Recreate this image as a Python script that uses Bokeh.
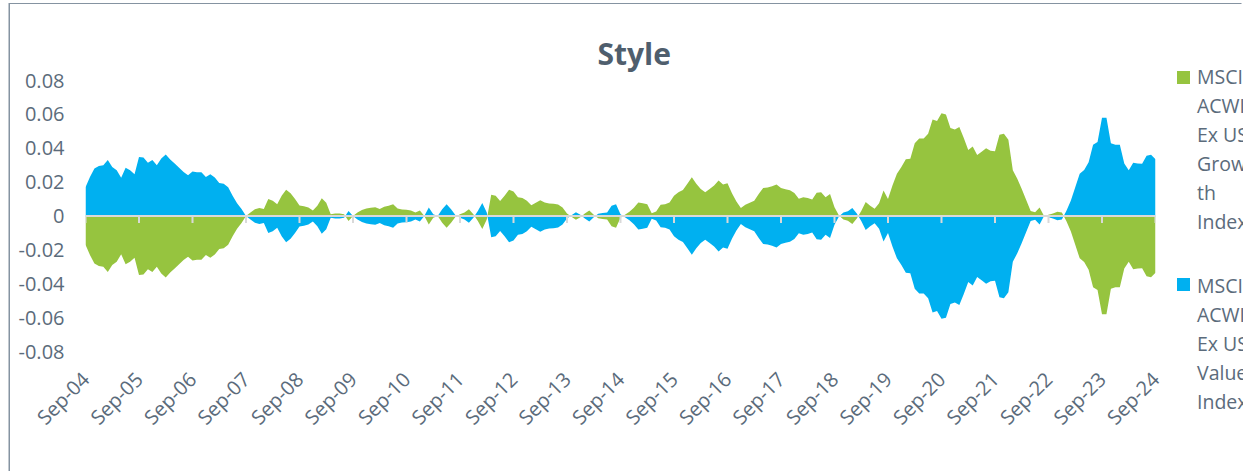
from math import pi
from bokeh.plotting import figure
from bokeh.layouts import row
from bokeh.models import FixedTicker, Span, Range1d, ColumnDataSource, Div
from bokeh.embed import file_html
from bokeh.resources import INLINE

# ---------------- data ----------------
tick_labels = ["Sep-04", "Sep-05", "Sep-06", "Sep-07", "Sep-08", "Sep-09", "Sep-10",
               "Sep-11", "Sep-12", "Sep-13", "Sep-14", "Sep-15", "Sep-16", "Sep-17",
               "Sep-18", "Sep-19", "Sep-20", "Sep-21", "Sep-22", "Sep-23", "Sep-24"]
y_ticks = [-0.08, -0.06, -0.04, -0.02, 0.0, 0.02, 0.04, 0.06, 0.08]
y_tick_labels = ["-0.08", "-0.06", "-0.04", "-0.02", "0", "0.02", "0.04", "0.06", "0.08"]
series_names = ["MSCI ACWI Ex USA Growth Index", "MSCI ACWI Ex USA Value Index"]
# how the legend wraps the two names
legend_lines = [["MSCI", "ACWI", "Ex USA", "Grow", "th", "Index"],
                ["MSCI", "ACWI", "Ex USA", "Value", "Index"]]

# monthly, Sep-04 .. Sep-24
growth = [
    -0.017, -0.023, -0.028, -0.0295, -0.030, -0.033, -0.029, -0.027, -0.0226, -0.0285, -0.027, -0.0246,
    -0.0349, -0.0345, -0.0315, -0.033, -0.030, -0.034, -0.0363, -0.0333, -0.031, -0.0285, -0.026, -0.024,
    -0.0262, -0.0258, -0.0258, -0.023, -0.0246, -0.0228, -0.0195, -0.019, -0.017, -0.012, -0.0075, -0.0042,
    0.0, 0.002, 0.004, 0.0047, 0.0042, 0.010, 0.009, 0.007, 0.012, 0.0155, 0.0135, 0.010,
    0.0062, 0.0057, 0.005, 0.0033, 0.006, 0.0105, 0.0078, 0.001, 0.0015, 0.0015, 0.001, -0.003,
    0.0, 0.002, 0.0035, 0.0045, 0.0048, 0.0052, 0.0042, 0.0055, 0.006, 0.007, 0.0045, 0.0038,
    0.0037, 0.0033, 0.002, 0.0033, 0.0, -0.005, -0.001, 0.0, -0.004, -0.007, -0.004, -0.0005,
    0.001, 0.002, 0.004, 0.001, -0.003, -0.0077, -0.002, 0.0125, 0.012, 0.0088, 0.012, 0.0155,
    0.0145, 0.011, 0.0107, 0.009, 0.0063, 0.0078, 0.0093, 0.008, 0.0074, 0.0073, 0.0068, 0.005,
    0.0015, -0.0005, -0.0022, -0.0008, 0.0015, 0.0032, 0.0008, -0.0013, -0.0018, -0.002, -0.006, -0.007,
    -0.001, 0.0008, 0.0025, 0.0048, 0.008, 0.0075, 0.007, 0.0016, 0.0026, 0.0067, 0.007, 0.008,
    0.012, 0.014, 0.0154, 0.019, 0.0229, 0.019, 0.016, 0.014, 0.016, 0.018, 0.0209, 0.0186,
    0.0194, 0.0135, 0.0085, 0.0047, 0.0066, 0.0078, 0.009, 0.013, 0.0166, 0.0169, 0.0175, 0.0186,
    0.0166, 0.0158, 0.0152, 0.0136, 0.0102, 0.011, 0.0107, 0.0097, 0.0138, 0.014, 0.011, 0.013,
    0.0052, 0.0003, -0.002, -0.0028, -0.0047, -0.0015, 0.003, 0.0082, 0.006, 0.0043, 0.0075, 0.015,
    0.0101, 0.018, 0.025, 0.029, 0.0335, 0.0338, 0.043, 0.0457, 0.0457, 0.0486, 0.057, 0.0561,
    0.0607, 0.060, 0.052, 0.051, 0.0525, 0.046, 0.039, 0.041, 0.036, 0.038, 0.040, 0.0385,
    0.0383, 0.048, 0.0486, 0.045, 0.027, 0.022, 0.016, 0.0095, 0.003, 0.0022, 0.005, 0.0,
    0.0008, 0.0015, 0.0025, 0.002, -0.003, -0.009, -0.017, -0.025, -0.0272, -0.0318, -0.042, -0.0437,
    -0.058, -0.058, -0.043, -0.042, -0.042, -0.031, -0.027, -0.0315, -0.031, -0.0308, -0.0355, -0.0362,
    -0.0335,
]
value = [
    0.017, 0.023, 0.028, 0.0295, 0.030, 0.033, 0.029, 0.027, 0.0226, 0.0285, 0.027, 0.0246,
    0.0349, 0.0345, 0.0315, 0.033, 0.030, 0.034, 0.0363, 0.0333, 0.031, 0.0285, 0.026, 0.024,
    0.0262, 0.0258, 0.0258, 0.023, 0.0246, 0.0228, 0.0195, 0.019, 0.017, 0.012, 0.0075, 0.0042,
    0.0, -0.002, -0.004, -0.0047, -0.0042, -0.010, -0.009, -0.007, -0.012, -0.0155, -0.0135, -0.010,
    -0.0062, -0.0057, -0.005, -0.0033, -0.006, -0.0105, -0.0078, -0.001, -0.0015, -0.0015, -0.001, 0.003,
    0.0, -0.002, -0.0035, -0.0045, -0.0048, -0.0052, -0.0042, -0.0055, -0.006, -0.007, -0.0045, -0.0038,
    -0.0037, -0.0033, -0.002, -0.0033, 0.0, 0.005, 0.001, 0.0, 0.004, 0.007, 0.004, 0.0005,
    -0.001, -0.002, -0.004, -0.001, 0.003, 0.0077, 0.002, -0.0125, -0.012, -0.0088, -0.012, -0.0155,
    -0.0145, -0.011, -0.0107, -0.009, -0.0063, -0.0078, -0.0093, -0.008, -0.0074, -0.0073, -0.0068, -0.005,
    -0.0015, 0.0005, 0.0022, 0.0008, -0.0015, -0.0032, -0.0008, 0.0013, 0.0018, 0.002, 0.006, 0.007,
    0.001, -0.0008, -0.0025, -0.0048, -0.008, -0.0075, -0.007, -0.0016, -0.0026, -0.0067, -0.007, -0.008,
    -0.012, -0.014, -0.0154, -0.019, -0.0229, -0.019, -0.016, -0.014, -0.016, -0.018, -0.0209, -0.0186,
    -0.0194, -0.0135, -0.0085, -0.0047, -0.0066, -0.0078, -0.009, -0.013, -0.0166, -0.0169, -0.0175, -0.0186,
    -0.0166, -0.0158, -0.0152, -0.0136, -0.0102, -0.011, -0.0107, -0.0097, -0.0138, -0.014, -0.011, -0.013,
    -0.0052, -0.0003, 0.002, 0.0028, 0.0047, 0.0015, -0.003, -0.0082, -0.006, -0.0043, -0.0075, -0.015,
    -0.0101, -0.018, -0.025, -0.029, -0.0335, -0.0338, -0.043, -0.0457, -0.0457, -0.0486, -0.057, -0.0561,
    -0.0607, -0.060, -0.052, -0.051, -0.0525, -0.046, -0.039, -0.041, -0.036, -0.038, -0.040, -0.0385,
    -0.0383, -0.048, -0.0486, -0.045, -0.027, -0.022, -0.016, -0.0095, -0.003, -0.0022, -0.005, 0.0,
    -0.0008, -0.0015, -0.0025, -0.002, 0.003, 0.009, 0.017, 0.025, 0.0272, 0.0318, 0.042, 0.0437,
    0.058, 0.058, 0.043, 0.042, 0.042, 0.031, 0.027, 0.0315, 0.031, 0.0308, 0.0355, 0.0362,
    0.0335,
]

# ---------------- styling ----------------
GREEN = "#96c43f"
BLUE = "#00b0f0"
TEXT = "#5b6b7b"
TITLE = "#4f5e6d"
AXIS = "#d9d9d9"
FONT = "Open Sans"
colors = [GREEN, BLUE]

n = len(growth)
months = list(range(n))
tick_pos = [12 * k for k in range(len(tick_labels))]

H = 468
FRAME_H = 271
Y_MIN, Y_MAX = y_ticks[0], y_ticks[-1]

p = figure(width=1155, height=H, output_backend="svg", toolbar_location=None,
           x_range=Range1d(0, n - 1), y_range=Range1d(Y_MIN, Y_MAX),
           min_border_left=75, min_border_right=10, min_border_top=76,
           min_border_bottom=H - 76 - FRAME_H)
p.outline_line_color = None
p.grid.visible = False
p.background_fill_color = "white"
p.border_fill_color = "white"

src = ColumnDataSource(dict(m=months, g=growth, v=value))
rg = p.varea(x="m", y1=0, y2="g", source=src, fill_color=GREEN)
rv = p.varea(x="m", y1=0, y2="v", source=src, fill_color=BLUE)

# zero axis line with its tick marks
p.add_layout(Span(location=0, dimension="width", line_color=AXIS, line_width=2))
tick_len = (Y_MAX - Y_MIN) / FRAME_H * 7
p.segment(x0=tick_pos, y0=[0] * len(tick_pos), x1=tick_pos,
          y1=[-tick_len] * len(tick_pos), line_color=AXIS, line_width=2)

xa = p.xaxis[0]
xa.ticker = FixedTicker(ticks=tick_pos)
xa.major_label_overrides = {t: lab for t, lab in zip(tick_pos, tick_labels)}
xa.major_label_orientation = pi / 4
xa.axis_line_color = None
xa.major_tick_line_color = None
xa.minor_tick_line_color = None
xa.major_tick_out = 0
xa.major_tick_in = 0
xa.major_label_standoff = 24
xa.major_label_text_font = FONT
xa.major_label_text_font_size = "20px"
xa.major_label_text_color = TEXT

ya = p.yaxis[0]
ya.ticker = FixedTicker(ticks=y_ticks)
ya.major_label_overrides = {t: lab for t, lab in zip(y_ticks, y_tick_labels)}
ya.axis_line_color = None
ya.major_tick_line_color = None
ya.minor_tick_line_color = None
ya.major_tick_out = 0
ya.major_tick_in = 0
ya.major_label_standoff = 21
ya.major_label_text_font = FONT
ya.major_label_text_font_size = "20px"
ya.major_label_text_color = TEXT

p.title.text = "Style"
p.title.align = "left"
p.title.offset = 512
p.title.standoff = 13
p.title.text_font = FONT
p.title.text_font_style = "bold"
p.title.text_font_size = "30px"
p.title.text_color = TITLE

# ---------------- legend (HTML, clipped at the window edge like the reference) ----------------
LW = 78
LINE_H = 29
FS = 19.5
square_top = [66.7, 274.0]
text_top = [58.0, 266.5]
parts = []
for lines, col, st, tt in zip(legend_lines, colors, square_top, text_top):
    parts.append(
        f'<div style="position:absolute;left:12px;top:{st}px;width:13px;height:13px;'
        f'background:{col};"></div>')
    parts.append(
        f'<div style="position:absolute;left:32px;top:{tt}px;white-space:nowrap;">'
        + "<br>".join(lines) + "</div>")
legend_html = (
    f'<div style="position:relative;width:{LW}px;height:{H}px;overflow:hidden;'
    f"font-family:'{FONT}';font-size:{FS}px;line-height:{LINE_H}px;color:{TEXT};\">"
    + "".join(parts) + "</div>")
legend = Div(text=legend_html, width=LW, height=H, margin=0,
             styles={"overflow": "hidden"})

layout = row(p, legend, spacing=0)
layout.styles = {"position": "relative", "left": "10px", "top": "4px",
                 "box-shadow": "-1.5px -1px 0 0 #8593a1"}

open("out.html", "w").write(file_html(layout, INLINE))
